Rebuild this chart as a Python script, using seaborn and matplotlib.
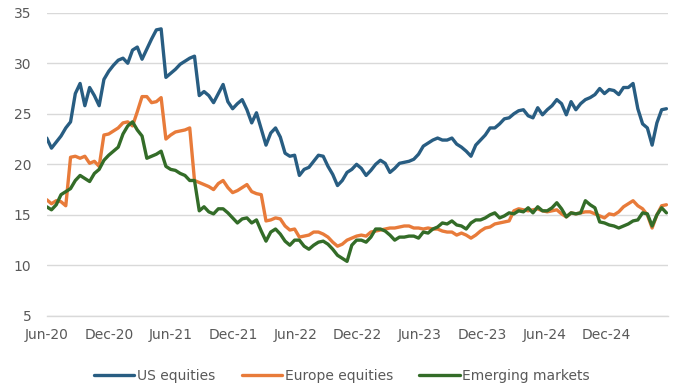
import matplotlib
matplotlib.use('Agg')
import matplotlib.dates as mdates
import matplotlib.pyplot as plt
import pandas as pd
import seaborn as sns

sns.set_style('white')
plt.rcParams['font.family'] = ['DejaVu Sans']

# fortnightly readings, first one on 1 Jun 2020
start_date = '2020-06-01'
step = '14D'

us_equities = [
    22.6, 21.6, 22.2, 22.8, 23.6, 24.2, 27.0, 28.0, 25.8, 27.6,
    26.8, 25.8, 28.4, 29.2, 29.8, 30.3, 30.5, 30.0, 31.3, 31.6,
    30.4, 31.4, 32.4, 33.3, 33.4, 28.6, 29.0, 29.4, 29.9, 30.2,
    30.5, 30.7, 26.8, 27.2, 26.8, 26.1, 27.0, 27.9, 26.2, 25.5,
    26.0, 26.4, 25.4, 24.1, 25.1, 23.5, 21.9, 23.1, 23.6, 22.7,
    21.1, 20.8, 20.9, 18.9, 19.5, 19.7, 20.3, 20.9, 20.8, 19.8,
    19.0, 17.9, 18.4, 19.2, 19.5, 20.0, 19.6, 18.9, 19.4, 20.0,
    20.4, 20.1, 19.2, 19.6, 20.1, 20.2, 20.3, 20.5, 21.0, 21.8,
    22.1, 22.4, 22.6, 22.4, 22.4, 22.6, 22.0, 21.7, 21.3, 20.8,
    21.9, 22.4, 22.9, 23.6, 23.6, 24.0, 24.5, 24.6, 25.0, 25.3,
    25.4, 24.8, 24.6, 25.6, 24.9, 25.4, 25.8, 26.4, 26.0, 24.9,
    26.2, 25.4, 26.0, 26.4, 26.6, 26.9, 27.5, 27.0, 27.4, 27.3,
    26.9, 27.6, 27.6, 28.0, 25.5, 24.0, 23.6, 21.9, 24.1, 25.4,
    25.5,
]

europe_equities = [
    16.5, 16.1, 16.4, 16.3, 15.9, 20.7, 20.8, 20.6, 20.8, 20.1,
    20.3, 19.8, 22.9, 23.0, 23.3, 23.6, 24.1, 24.2, 23.8, 25.2,
    26.7, 26.7, 26.1, 26.2, 26.6, 22.5, 22.9, 23.2, 23.3, 23.4,
    23.6, 18.4, 18.2, 18.0, 17.8, 17.5, 18.1, 18.4, 17.7, 17.2,
    17.4, 17.7, 18.0, 17.3, 17.1, 17.0, 14.4, 14.5, 14.7, 14.6,
    13.9, 13.5, 13.6, 12.8, 12.9, 13.0, 13.3, 13.3, 13.1, 12.8,
    12.3, 11.9, 12.1, 12.5, 12.7, 12.9, 13.0, 12.9, 13.3, 13.4,
    13.5, 13.6, 13.7, 13.7, 13.8, 13.9, 13.9, 13.7, 13.7, 13.6,
    13.7, 13.6, 13.6, 13.4, 13.3, 13.3, 13.0, 13.2, 13.0, 12.7,
    13.0, 13.4, 13.7, 13.8, 14.1, 14.2, 14.3, 14.4, 15.4, 15.6,
    15.5, 15.4, 15.5, 15.6, 15.4, 15.3, 15.4, 15.5, 15.1, 14.8,
    15.2, 15.1, 15.2, 15.3, 15.3, 15.1, 14.9, 14.7, 15.1, 15.0,
    15.3, 15.8, 16.1, 16.4, 15.9, 15.6, 15.0, 13.7, 15.0, 15.9,
    16.0,
]

emerging_markets = [
    15.8, 15.5, 16.0, 17.0, 17.3, 17.6, 18.4, 18.9, 18.6, 18.3,
    19.1, 19.5, 20.4, 20.9, 21.3, 21.7, 23.0, 23.8, 24.2, 23.4,
    22.8, 20.6, 20.8, 21.0, 21.3, 19.8, 19.5, 19.4, 19.1, 18.9,
    18.4, 18.4, 15.4, 15.8, 15.3, 15.1, 15.6, 15.6, 15.2, 14.7,
    14.2, 14.6, 14.7, 14.2, 14.5, 13.4, 12.4, 13.3, 13.6, 13.1,
    12.4, 12.0, 12.5, 12.5, 11.9, 11.6, 12.0, 12.3, 12.4, 12.1,
    11.6, 11.0, 10.7, 10.4, 12.0, 12.5, 12.5, 12.3, 12.8, 13.6,
    13.6, 13.4, 13.0, 12.5, 12.8, 12.8, 12.9, 12.9, 12.7, 13.3,
    13.2, 13.6, 13.8, 14.2, 14.1, 14.4, 14.0, 13.9, 13.6, 14.2,
    14.5, 14.5, 14.7, 15.0, 15.2, 14.7, 14.9, 15.2, 15.1, 15.4,
    15.3, 15.7, 15.2, 15.8, 15.4, 15.4, 15.7, 16.2, 15.6, 14.8,
    15.2, 15.1, 15.2, 16.4, 16.0, 15.7, 14.3, 14.2, 14.0, 13.9,
    13.7, 13.9, 14.1, 14.4, 14.5, 15.2, 15.1, 13.9, 15.0, 15.7,
    15.2,
]

series_names = ['US equities', 'Europe equities', 'Emerging markets']
colors = ['#285D82', '#E87B3A', '#336C28']

dates = pd.date_range(start_date, periods=len(us_equities), freq=step)
frames = []
for name, values in zip(series_names, [us_equities, europe_equities,
                                       emerging_markets]):
    frames.append(pd.DataFrame({'date': dates, 'value': values,
                                'series': name}))
df = pd.concat(frames, ignore_index=True)

fig = plt.figure(figsize=(6.84, 3.92), dpi=100)
ax = fig.add_axes([0.0683, 0.194, 0.908, 0.7736])

sns.lineplot(data=df, x='date', y='value', hue='series',
             hue_order=series_names, palette=colors, linewidth=2.4,
             legend=False, ax=ax)

ax.set_ylim(5, 35)
ax.set_yticks(range(5, 36, 5))
ax.set_xlim(pd.Timestamp('2020-06-01'), pd.Timestamp('2025-05-30'))
ax.xaxis.set_major_locator(mdates.MonthLocator(bymonth=[6, 12]))
ax.xaxis.set_major_formatter(mdates.DateFormatter('%b-%y'))
ax.set_xlabel('')
ax.set_ylabel('')

grey = '#595959'
ax.grid(axis='y', color='#D9D9D9', linewidth=1)
ax.grid(axis='x', visible=False)
for side in ['left', 'right', 'top']:
    ax.spines[side].set_visible(False)
ax.spines['bottom'].set_color('#D9D9D9')
ax.spines['bottom'].set_linewidth(1)
ax.tick_params(axis='x', colors='#D9D9D9', labelcolor=grey, length=3.5,
               width=1, direction='out', pad=5, labelsize=10)
ax.tick_params(axis='y', length=0, pad=11, labelcolor=grey, labelsize=10)
ax.set_axisbelow(True)

fig.legend(handles=ax.get_lines()[:3], labels=series_names, loc='center',
           bbox_to_anchor=(0.5, 1 - 376 / 392), ncol=3, frameon=False,
           fontsize=10, handlelength=2.9, handletextpad=0.2,
           columnspacing=1.9, labelcolor=grey)

fig.savefig('out.png', dpi=100)
